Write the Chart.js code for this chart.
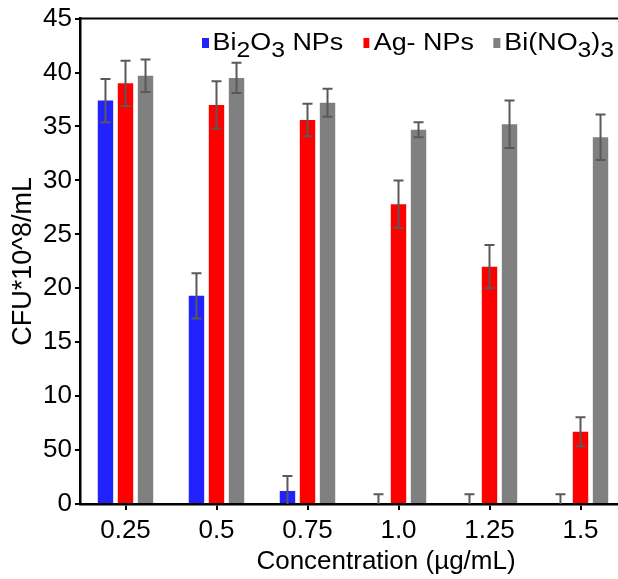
<!DOCTYPE html>
<html>
<head>
<meta charset="utf-8">
<script src="https://cdn.jsdelivr.net/npm/chart.js"></script>
<style>
  html, body { margin:0; padding:0; background:#fff; overflow:hidden; }
  #wrap { position:relative; width:628px; height:579px; }
  #legend { position:absolute; left:202px; top:29px; display:flex; white-space:nowrap;
            font:23px 'Liberation Sans', Arial, sans-serif; color:#000;
            transform:scaleX(1.17); transform-origin:0 0; }
  .item { display:flex; align-items:center; margin-right:17px; }
  .box { width:5.5px; height:10px; margin-right:3.5px; }
  .sub { position:relative; top:7px; font-size:0.92em; }
  #xtitle { position:absolute; left:386px; top:547px; transform:translateX(-50%);
            font:26px 'Liberation Sans', Arial, sans-serif; line-height:26px; white-space:nowrap; }
</style>
</head>
<body>
<div id="wrap">
  <canvas id="chart" width="628" height="579"></canvas>
  <div id="legend"></div>
  <div id="xtitle">Concentration (µg/mL)</div>
</div>
<script>
// data
const categories = ['0.25', '0.5', '0.75', '1.0', '1.25', '1.5'];
const seriesNames = ['Bi2O3 NPs', 'Ag- NPs', 'Bi(NO3)3'];
const bi2o3Values = [37.4, 19.3, 1.2, 0, 0, 0];
const bi2o3Errors = [2.0, 2.1, 1.4, 0.9, 0.9, 0.9];
const agValues = [39.0, 37.0, 35.6, 27.8, 22.0, 6.7];
const agErrors = [2.1, 2.2, 1.5, 2.2, 2.0, 1.35];
const bino3Values = [39.7, 39.5, 37.2, 34.7, 35.2, 34.0];
const bino3Errors = [1.5, 1.4, 1.3, 0.7, 2.2, 2.1];
const yTickLabels = ['0', '50', '10', '15', '20', '25', '30', '35', '40', '45'];

const FONT = "'Liberation Sans', Arial, sans-serif";
const colors = ['#2222ff', '#ff0000', '#808080'];

// error whiskers, drawn through the y scale
const errorBars = {
  id: 'errorBars',
  afterDatasetsDraw(chart) {
    const ctx = chart.ctx;
    const y = chart.scales.y;
    ctx.save();
    ctx.strokeStyle = '#595959';
    ctx.lineWidth = 2;
    chart.data.datasets.forEach((ds, i) => {
      chart.getDatasetMeta(i).data.forEach((bar, j) => {
        const v = ds.data[j], e = ds.errors[j];
        const top = y.getPixelForValue(v + e);
        const bot = y.getPixelForValue(Math.max(0, v - e));
        ctx.beginPath();
        ctx.moveTo(bar.x, top); ctx.lineTo(bar.x, bot);
        ctx.moveTo(bar.x - 5, top); ctx.lineTo(bar.x + 5, top);
        if (v - e > 0) { ctx.moveTo(bar.x - 5, bot); ctx.lineTo(bar.x + 5, bot); }
        ctx.stroke();
      });
    });
    ctx.restore();
  }
};

// frame line along the top of the plot
const topBorder = {
  id: 'topBorder',
  afterDraw(chart) {
    const {ctx, chartArea: a} = chart;
    ctx.save();
    ctx.strokeStyle = '#000';
    ctx.lineWidth = 2;
    ctx.beginPath();
    ctx.moveTo(a.left, a.top); ctx.lineTo(a.right, a.top);
    ctx.stroke();
    ctx.restore();
  }
};

const valueSets = [bi2o3Values, agValues, bino3Values];
const errorSets = [bi2o3Errors, agErrors, bino3Errors];

new Chart(document.getElementById('chart'), {
  type: 'bar',
  data: {
    labels: categories,
    datasets: seriesNames.map((name, i) => ({
      label: name,
      data: valueSets[i],
      errors: errorSets[i],
      backgroundColor: colors[i],
      borderWidth: 0,
      categoryPercentage: 0.66,
      barPercentage: 0.77
    }))
  },
  options: {
    responsive: false,
    animation: false,
    layout: { padding: { top: 17, right: 2, left: 0, bottom: 0 } },
    plugins: { legend: { display: false }, tooltip: { enabled: false } },
    scales: {
      x: {
        grid: { drawOnChartArea: false, drawTicks: true, tickLength: 6, color: '#000', lineWidth: 2, offset: false },
        border: { display: true, color: '#000', width: 2.5 },
        ticks: { color: '#000', padding: 5, font: { family: FONT, size: 26 } },
        afterFit: s => { s.height = 75; }
      },
      y: {
        min: 0, max: 45,
        grid: { drawOnChartArea: false, drawTicks: true, tickLength: 5, color: '#000', lineWidth: 2 },
        border: { display: true, color: '#000', width: 2.5 },
        ticks: { stepSize: 5, color: '#000', padding: 3, font: { family: FONT, size: 26 },
                 callback: (v, i) => yTickLabels[i] },
        title: { display: true, text: 'CFU*10^8/mL', color: '#000',
                 font: { family: FONT, size: 27 }, padding: { top: 7, bottom: 0 } },
        afterFit: s => { s.width = 80; }
      }
    }
  },
  plugins: [errorBars, topBorder]
});

// legend with subscripted digits
document.getElementById('legend').innerHTML = seriesNames.map((name, i) =>
  `<div class="item"><span class="box" style="background:${colors[i]}"></span>` +
  `<span>${name.replace(/\d/g, d => `<span class="sub">${d}</span>`)}</span></div>`
).join('');
</script>
</body>
</html>
